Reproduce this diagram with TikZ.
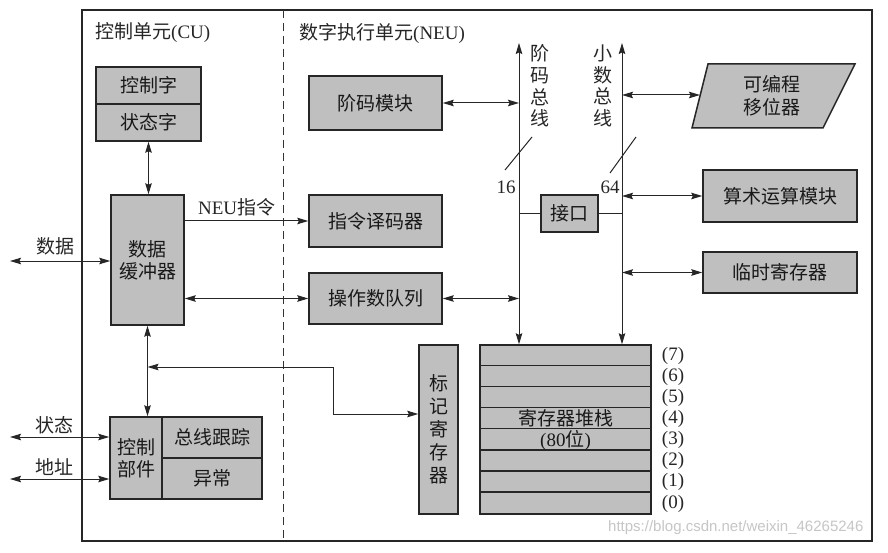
\documentclass[tikz,border=0pt]{standalone}
\usepackage{fontspec}
\setmainfont{Liberation Serif}
\newfontfamily\cjk{Noto Sans CJK SC}
\newfontfamily\wmfont{Liberation Sans}
\usetikzlibrary{arrows.meta,calc}
\newcommand{\lat}[1]{{\rmfamily\fontsize{19}{21}\selectfont #1}}
\tikzset{
  box/.style={draw=black!85, line width=1.5pt, fill=gray!50, inner sep=0pt, text=black!90,
    font=\cjk\fontsize{19}{22}\selectfont, align=center},
  conn/.style={draw=black!85, line width=1pt},
  tip/.style={-{Stealth[length=11pt,width=6.5pt,inset=1.5pt]}},
  both/.style={{Stealth[length=11pt,width=6.5pt,inset=1.5pt]}-{Stealth[length=11pt,width=6.5pt,inset=1.5pt]}},
  lbl/.style={text=black!85, inner sep=0pt, font=\cjk\fontsize{19}{22}\selectfont, align=center},
  num/.style={text=black!85, inner sep=0pt, font=\fontsize{19}{21}\selectfont},
}
\begin{document}
\begin{tikzpicture}[x=1pt,y=-1pt]
\useasboundingbox (0,0) rectangle (888,553);
\fill[white] (0,0) rectangle (888,553);

% frame and divider
\draw[draw=black!85, line width=1.6pt] (82,10) rectangle (872,541);
\draw[draw=black!80, line width=1pt, dash pattern=on 8pt off 5pt] (283,10) -- (283,541);

% section titles
\node[lbl, anchor=west] (cutitle) at (95,33) {控制单元\lat{(CU)}};
\node[lbl, anchor=west] (neutitle) at (299,33) {数字执行单元\lat{(NEU)}};

% CU boxes
\node[box, minimum width=105pt, minimum height=37pt] (cw) at (148.5,85.5) {控制字};
\node[box, minimum width=105pt, minimum height=37pt] (sw) at (148.5,122.5) {状态字};
\node[box, minimum width=73pt, minimum height=130pt] (buf) at (147.5,260) {数据\\缓冲器};
\node[box, minimum width=52pt, minimum height=82pt] (ctl) at (136,458) {控制\\部件};
\node[box, minimum width=100pt, minimum height=41pt] (bt) at (212,437.5) {总线跟踪};
\node[box, minimum width=100pt, minimum height=41pt] (ex) at (212,478.5) {异常};

% NEU boxes
\node[box, minimum width=133pt, minimum height=54pt] (jm) at (375.5,103) {阶码模块};
\node[box, minimum width=133pt, minimum height=52pt] (dec) at (375.5,221) {指令译码器};
\node[box, minimum width=133pt, minimum height=51pt] (opq) at (375.5,298.5) {操作数队列};
\node[box, minimum width=57pt, minimum height=37pt] (itf) at (569.5,213.5) {接口};
\node[box, minimum width=154pt, minimum height=52pt] (alu) at (780,196) {算术运算模块};
\node[box, minimum width=154pt, minimum height=41pt] (tmp) at (780,272.5) {临时寄存器};
\node[box, minimum width=39pt, minimum height=169pt, font=\cjk\fontsize{19}{23}\selectfont] (tag) at (438.5,429.5) {标\\记\\寄\\存\\器};
\node[box, minimum width=171pt, minimum height=169pt] (stk) at (565.5,429.5) {};

% programmable shifter (irregular parallelogram)
\draw[draw=black!85, line width=1.5pt, fill=gray!50] (708,64) -- (855,64) -- (823,128) -- (692,128) -- cycle;
\node[lbl, text=black!90, font=\cjk\fontsize{19}{23}\selectfont] (shf) at (772,96) {可编程\\移位器};
\coordinate (shfw) at (700,95);

% register stack rows
\foreach \k in {1,...,7} {
  \draw[draw=black!85, line width=1.3pt] ($(stk.north west)+(0,\k*21.125)$) -- ($(stk.north east)+(0,\k*21.125)$);
}
\node[lbl, text=black!90, font=\cjk\fontsize{19}{20.5}\selectfont] (stktext) at (565.5,430) {寄存器堆栈\\\lat{(80}位\lat{)}};
\foreach \k in {0,...,7} {
  \node[num] (r\k) at (673,{345+(7-\k+0.5)*21.125}) {(\k)};
}

% buses
\coordinate (ebtop) at (519,43);
\coordinate (fbtop) at (622,43);
\coordinate (ebbot) at (stk.north -| ebtop);
\coordinate (fbbot) at (stk.north -| fbtop);
\draw[conn, both] (ebtop) -- (ebbot);
\draw[conn, both] (fbtop) -- (fbbot);
\node[lbl, font=\cjk\fontsize{19}{21.7}\selectfont] (eblbl) at (540,86) {阶\\码\\总\\线};
\node[lbl, font=\cjk\fontsize{19}{21.7}\selectfont] (fblbl) at (603,86) {小\\数\\总\\线};
\draw[conn] (505,170) -- (532,137);
\draw[conn] (610,173) -- (636,137);
\node[num] (n16) at (506,187) {16};
\node[num] (n64) at (610,187) {64};

% interface links
\draw[conn] (itf.west -| ebtop) -- (itf.west);
\draw[conn] (itf.east) -- (itf.east -| fbtop);

% NEU connectors
\draw[conn, both] (jm.east) -- (jm.east -| ebtop);
\draw[conn, both] (opq.east) -- (opq.east -| ebtop);
\draw[conn, both] (shfw -| fbtop) -- (shfw);
\draw[conn, both] (alu.west -| fbtop) -- (alu.west);
\draw[conn, both] (tmp.west -| fbtop) -- (tmp.west);

% CU connectors
\draw[conn, both] (sw.south) -- (sw.south |- buf.north);
\draw[conn, tip] (buf.east |- dec.west) -- node[lbl, above=4pt, pos=0.42] (neulbl) {\lat{NEU}指令} (dec.west);
\draw[conn, both] (buf.east |- opq.west) -- (opq.west);
\draw[conn, both] (buf.south) -- (buf.south |- ctl.north);

\coordinate (dataL) at (10,261);
\coordinate (statL) at (10,437);
\coordinate (addrL) at (10,479);
\draw[conn, both] (dataL) -- node[lbl, above=5pt, pos=0.45] (datalbl) {数据} (dataL -| buf.west);
\draw[conn, both] (statL) -- node[lbl, above=3pt, pos=0.45] (statlbl) {状态} (statL -| ctl.west);
\draw[conn, both] (addrL) -- node[lbl, above=3pt, pos=0.45] (addrlbl) {地址} (addrL -| ctl.west);

% tag register link
\coordinate (tg1) at (333,414);
\coordinate (tg2) at (333,367);
\draw[conn, both] (tg1 -| tag.west) -- (tg1) -- (tg2) -- (tg2 -| buf.south);

% watermark
\node[text=gray!45, inner sep=0pt, anchor=west, font=\wmfont\fontsize{15}{17}\selectfont] (wm) at (608,528) {https://blog.csdn.net/weixin\_46265246};
\end{tikzpicture}
\end{document}
